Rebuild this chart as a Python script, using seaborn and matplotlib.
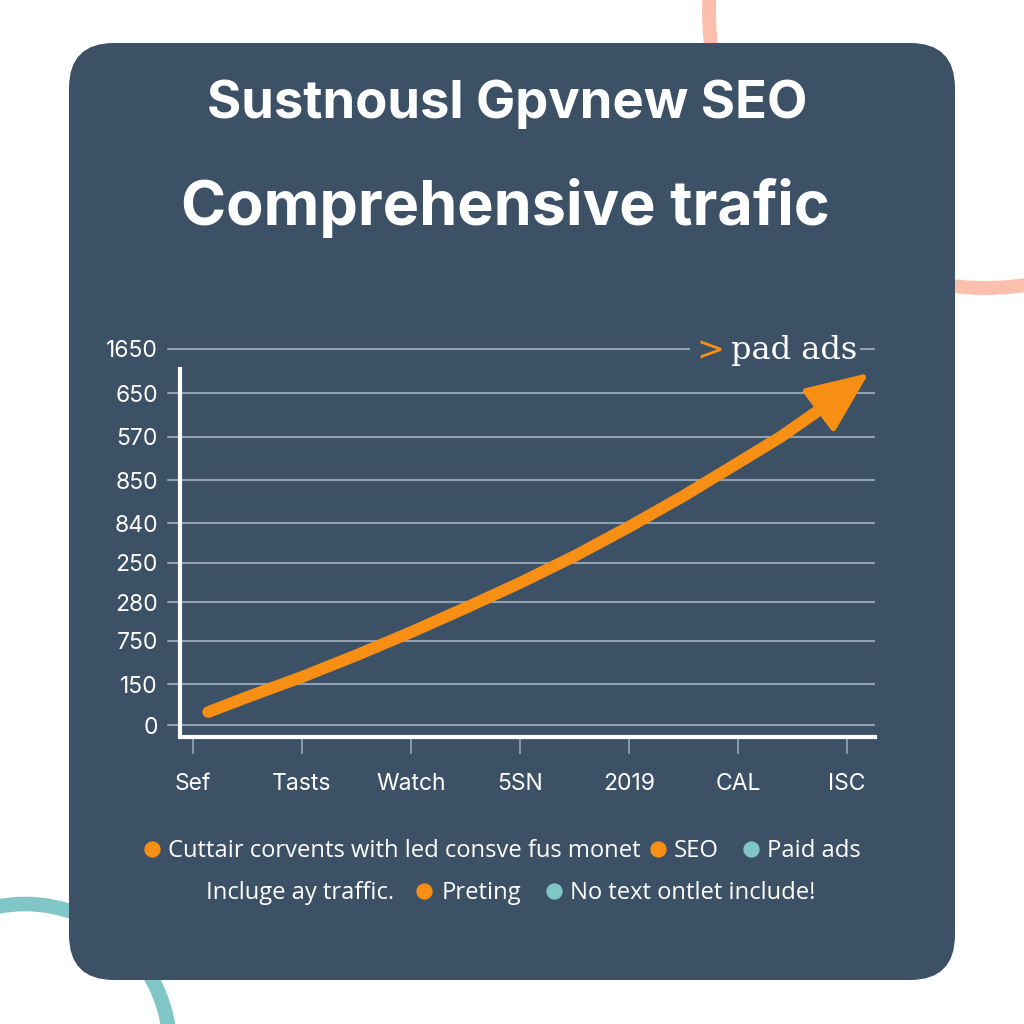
import pandas as pd
import matplotlib.pyplot as plt
import seaborn as sns
from matplotlib.patches import FancyBboxPatch, Circle

sns.set_theme(style="white")
plt.rcParams['font.family'] = ['Open Sans', 'DejaVu Sans']

PANEL = "#3c5166"
ORANGE = "#f78f14"
TEAL = "#80c6c6"
GRID = "#8fa0b0"

# the tick labels are not in order on the picture, so the axis runs on row levels
x_labels = ["Sef", "Tasts", "Watch", "5SN", "2019", "CAL", "ISC"]
y_labels = ["0", "150", "750", "280", "250", "840", "850", "570", "650", "1650"]
y_levels = [0, 0.98, 2.01, 2.94, 3.88, 4.83, 5.86, 6.89, 7.94, 9.0]

line_x = [0.14, 0.5, 1.0, 1.5, 2.0, 2.5, 3.0, 3.5, 4.0, 4.5, 5.0, 5.39, 5.72]
line_y = [0.31, 0.67, 1.15, 1.67, 2.22, 2.80, 3.40, 4.04, 4.74, 5.48, 6.27, 6.89, 7.49]
tip = (6.2, 8.42)

legend_1 = [("Cuttair corvents with led consve fus monet", ORANGE, 152, 168),
            ("SEO", ORANGE, 658, 674),
            ("Paid ads", TEAL, 751, 767)]
legend_2 = [("Preting", ORANGE, 424, 442),
            ("No text ontlet include!", TEAL, 554, 570)]

fig = plt.figure(figsize=(10.24, 10.24), dpi=100, facecolor="white")

# background layer in pixels
bg = fig.add_axes([0, 0, 1, 1])
bg.set_xlim(0, 1024)
bg.set_ylim(1024, 0)
bg.axis("off")
bg.add_patch(Circle((985, 12), 276, fill=False, ec="#fbbfae", lw=10))
bg.add_patch(Circle((25, 1049), 145, fill=False, ec=TEAL, lw=10.5))
bg.add_patch(FancyBboxPatch((109, 83), 806, 857, boxstyle="round,pad=40,rounding_size=45",
                            fc=PANEL, ec="none"))

bg.text(507, 104, "Sustnousl Gpvnew SEO", color="white", fontsize=37.8, fontweight="bold",
        ha="center", va="center", family="Inter")
bg.text(505, 208, "Comprehensive trafic", color="white", fontsize=44, fontweight="bold",
        ha="center", va="center", family="Inter")

for label, col, dot_x, txt_x in legend_1:
    bg.scatter([dot_x], [849], s=115, color=col, zorder=3)
    bg.text(txt_x, 851, label, color="white", fontsize=17.1, ha="left", va="center")
bg.text(206, 893, "Incluge ay traffic.", color="white", fontsize=17.1, ha="left", va="center")
for label, col, dot_x, txt_x in legend_2:
    bg.scatter([dot_x], [891], s=115, color=col, zorder=3)
    bg.text(txt_x, 893, label, color="white", fontsize=17.1, ha="left", va="center")

# plot area: left spine at 180px, bottom spine at 737px, room on top for the 1650 row
ax = fig.add_axes([180 / 1024, 1 - 737 / 1024, (875 - 180) / 1024, (737 - 345) / 1024])
ax.patch.set_alpha(0)

df = pd.DataFrame({"x": line_x, "y": line_y})
for lv in y_levels:
    ax.axhline(lv, color=GRID, lw=1.5, zorder=1)
    # grid starts left of the spine
    ax.plot([(168 - 193) / 109, (180 - 193) / 109], [lv, lv], color=GRID, lw=1.5, clip_on=False)
sns.lineplot(data=df, x="x", y="y", color=ORANGE, lw=8.5, ax=ax, zorder=4,
             solid_capstyle="round", estimator=None, sort=False)
ax.annotate("", xy=tip, xytext=(line_x[-1], line_y[-1]), annotation_clip=False, zorder=5,
            arrowprops=dict(arrowstyle="-|>,head_length=0.98,head_width=0.42", mutation_scale=40,
                            color=ORANGE, lw=4, shrinkA=0, shrinkB=0))

ax.set_xticks(range(len(x_labels)), x_labels)
ax.set_yticks(y_levels, y_labels)
ax.set_xlim((180 - 193) / 109, (875 - 193) / 109)
ax.set_ylim((725 - 737) / 41.8, (725 - 345) / 41.8)
ax.set_xlabel("")
ax.set_ylabel("")
ax.tick_params(axis="x", colors="white", labelsize=16.5, length=12, width=1.3, color=GRID, pad=14, bottom=True)
ax.tick_params(axis="y", colors="white", labelsize=16.5, length=0, pad=16)
for lab in ax.get_xticklabels() + ax.get_yticklabels():
    lab.set_family("Inter")
for s in ["top", "right"]:
    ax.spines[s].set_visible(False)
for s in ["left", "bottom"]:
    ax.spines[s].set_color("white")
    ax.spines[s].set_linewidth(3)
ax.spines["left"].set_bounds((725 - 737) / 41.8, (725 - 369) / 41.8)

# series label top right with the small chevron, the top row is broken behind it
ax.plot([4.58, 6.10], [9.0, 9.0], color=PANEL, lw=3, zorder=2)
ax.text(6.09, 8.95, "pad ads", color="white", fontsize=23, ha="right", va="center",
        family="DejaVu Serif", zorder=6)
ax.text(4.62, 8.95, ">", color=ORANGE, fontsize=24, ha="left", va="center", zorder=6,
        family="DejaVu Sans")

fig.savefig("out.png", dpi=100)
